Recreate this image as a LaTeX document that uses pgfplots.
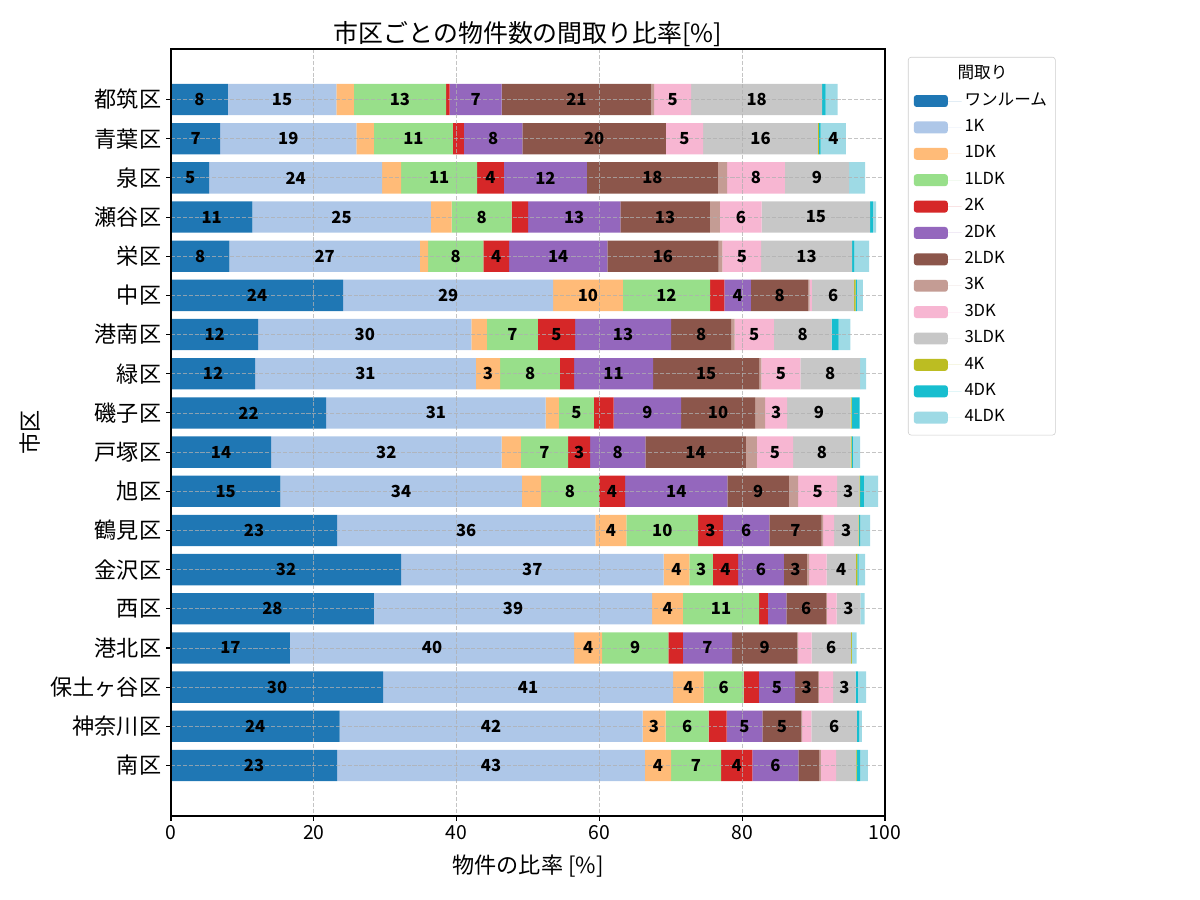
\documentclass[border=0pt]{standalone}
\usepackage{fontspec}
\setmainfont{Noto Sans CJK JP}
\usepackage{pgfplots}
\usepackage{pgfplotstable}
\pgfplotsset{compat=1.18}

\definecolor{c1}{HTML}{1F77B4}
\definecolor{c2}{HTML}{AEC7E8}
\definecolor{c3}{HTML}{FFBB78}
\definecolor{c4}{HTML}{98DF8A}
\definecolor{c5}{HTML}{D62728}
\definecolor{c6}{HTML}{9467BD}
\definecolor{c7}{HTML}{8C564B}
\definecolor{c8}{HTML}{C49C94}
\definecolor{c9}{HTML}{F7B6D2}
\definecolor{c10}{HTML}{C7C7C7}
\definecolor{c11}{HTML}{BCBD22}
\definecolor{c12}{HTML}{17BECF}
\definecolor{c13}{HTML}{9EDAE5}
\definecolor{gridc}{HTML}{B0B0B0}
\definecolor{legc}{HTML}{CCCCCC}

\pgfplotstableread{
name R K1 DK1 LDK1 K2 DK2 LDK2 K3 DK3 LDK3 K4 DK4 LDK4
都筑区 7.97 15.18 2.45 12.92 0.52 7.26 20.97 0.38 5.21 18.33 0 0.5 1.68
青葉区 6.88 19.1 2.44 11.07 1.54 8.17 20.12 0 5.21 16.08 0.13 0.26 3.53
泉区 5.34 24.24 2.64 10.67 3.73 11.64 18.33 1.29 8.1 9.0 0 0 2.25
瀬谷区 11.38 25.02 2.9 8.4 2.3 12.93 12.54 1.41 5.85 15.18 0 0.39 0.45
栄区 8.17 26.69 1.16 7.72 3.6 13.76 15.6 0.54 5.41 12.73 0 0.32 2.06
中区 24.12 29.39 9.77 12.22 1.99 3.73 8.04 0.2 0.31 5.92 0.19 0.19 0.84
港南区 12.22 29.84 2.19 7.14 5.21 13.44 8.4 0.51 5.47 8.1 0 0.97 1.67
緑区 11.77 30.93 3.41 8.36 1.99 11.06 14.86 0.32 5.45 8.36 0 0 0.84
磯子区 21.74 30.74 1.86 4.89 2.76 9.46 10.35 1.42 3.08 8.88 0.13 1.15 0
戸塚区 14.02 32.28 2.7 6.63 3.08 7.72 14.08 1.54 5.09 8.04 0.13 0.19 1.03
旭区 15.31 33.82 2.7 8.11 3.66 14.34 8.6 1.3 5.47 3.09 0.13 0.51 2.0
鶴見区 23.28 36.14 4.37 10.04 3.47 6.49 7.34 0.19 1.54 3.4 0.13 0.13 1.41
金沢区 32.22 36.78 3.6 3.3 3.53 6.4 3.22 0.32 2.44 4.12 0.19 0.19 0.9
西区 28.42 38.98 4.3 10.68 1.22 2.57 5.6 0.1 1.35 3.34 0 0 0.58
港北区 16.66 39.8 3.93 9.26 2.05 6.89 9.13 0.12 1.87 5.53 0.13 0 0.64
保土ヶ谷区 29.71 40.6 4.3 5.6 2.12 5.08 3.22 0.1 2.0 3.15 0 0.32 1.16
神奈川区 23.6 42.44 3.22 6.04 2.51 5.02 5.45 0.12 1.29 6.37 0 0.32 0.38
南区 23.28 43.09 3.66 7.01 4.4 6.43 2.9 0.26 2.12 2.77 0.12 0.46 1.09
}\data

\begin{document}
\begin{tikzpicture}
\useasboundingbox (-123.12bp,-60.48bp) rectangle (740.88bp,587.52bp);
\begin{axis}[
  scale only axis,
  width=514.08bp, height=552.24bp,
  xbar stacked, bar width=0.8,
  xmin=0, xmax=100, ymin=-1.29, ymax=18.29,
  y dir=reverse,
  xtick={0,20,40,60,80,100},
  ytick={0,1,...,17},
  yticklabels from table={\data}{name},
  tick align=outside, tick pos=left,
  major tick length=3.5bp,
  every tick/.style={black, line width=0.8bp},
  axis line style={black, line width=0.8bp},
  /pgf/number format/assume math mode=true,
  xticklabel style={font=\fontsize{14}{16}\selectfont},
  yticklabel style={font=\fontsize{16}{19}\selectfont},
  xmajorgrids, ymajorgrids,
  grid style={gridc, opacity=0.75, line width=0.6bp, dash pattern=on 2.96bp off 1.28bp},
  axis on top,
  title={市区ごとの物件数の間取り比率[\%]},
  title style={at={(axis description cs:0.5,1.0092)}, anchor=center, font=\fontsize{18}{21}\selectfont},
  xlabel={物件の比率 [\%]},
  xlabel style={at={(axis description cs:0.5,-0.0652)}, anchor=center, font=\fontsize{16}{19}\selectfont},
  ylabel={市区},
  ylabel style={at={(axis description cs:-0.1975,0.5)}, anchor=center, font=\fontsize{16}{19}\selectfont},
  point meta=rawx,
  visualization depends on={rawx \as \rawx},
  nodes near coords={\ifdim\rawx pt<3pt\else\pgfmathprintnumber[fixed,precision=0]{\rawx}\fi},
  every node near coord/.append style={anchor=center, font=\bfseries\fontsize{12}{14}\selectfont, text=black},
  legend image code/.code={\fill[#1] (0bp,-4.3bp) rectangle (24.5bp,4.3bp); \path (0bp,0bp) -- (34.5bp,0bp);},
  legend cell align=left,
  legend style={at={(1.0322,0.9896)}, anchor=north west, draw=legc, rounded corners=2bp,
    font=\fontsize{12}{14}\selectfont, inner xsep=4bp, inner ysep=3bp,
    nodes={text height=9bp, text depth=3bp, inner ysep=3.5bp}},
]
\addlegendimage{empty legend}
\addlegendentry{\hspace{-5bp}間取り\rule[-6bp]{0pt}{6bp}}
\addplot[fill=c1, draw=none] table[x=R, y expr=\coordindex] {\data};
\addlegendentry{ワンルーム}
\addplot[fill=c2, draw=none] table[x=K1, y expr=\coordindex] {\data};
\addlegendentry{1K}
\addplot[fill=c3, draw=none] table[x=DK1, y expr=\coordindex] {\data};
\addlegendentry{1DK}
\addplot[fill=c4, draw=none] table[x=LDK1, y expr=\coordindex] {\data};
\addlegendentry{1LDK}
\addplot[fill=c5, draw=none] table[x=K2, y expr=\coordindex] {\data};
\addlegendentry{2K}
\addplot[fill=c6, draw=none] table[x=DK2, y expr=\coordindex] {\data};
\addlegendentry{2DK}
\addplot[fill=c7, draw=none] table[x=LDK2, y expr=\coordindex] {\data};
\addlegendentry{2LDK}
\addplot[fill=c8, draw=none] table[x=K3, y expr=\coordindex] {\data};
\addlegendentry{3K}
\addplot[fill=c9, draw=none] table[x=DK3, y expr=\coordindex] {\data};
\addlegendentry{3DK}
\addplot[fill=c10, draw=none] table[x=LDK3, y expr=\coordindex] {\data};
\addlegendentry{3LDK}
\addplot[fill=c11, draw=none] table[x=K4, y expr=\coordindex] {\data};
\addlegendentry{4K}
\addplot[fill=c12, draw=none] table[x=DK4, y expr=\coordindex] {\data};
\addlegendentry{4DK}
\addplot[fill=c13, draw=none] table[x=LDK4, y expr=\coordindex] {\data};
\addlegendentry{4LDK}
\end{axis}
\end{tikzpicture}
\end{document}
